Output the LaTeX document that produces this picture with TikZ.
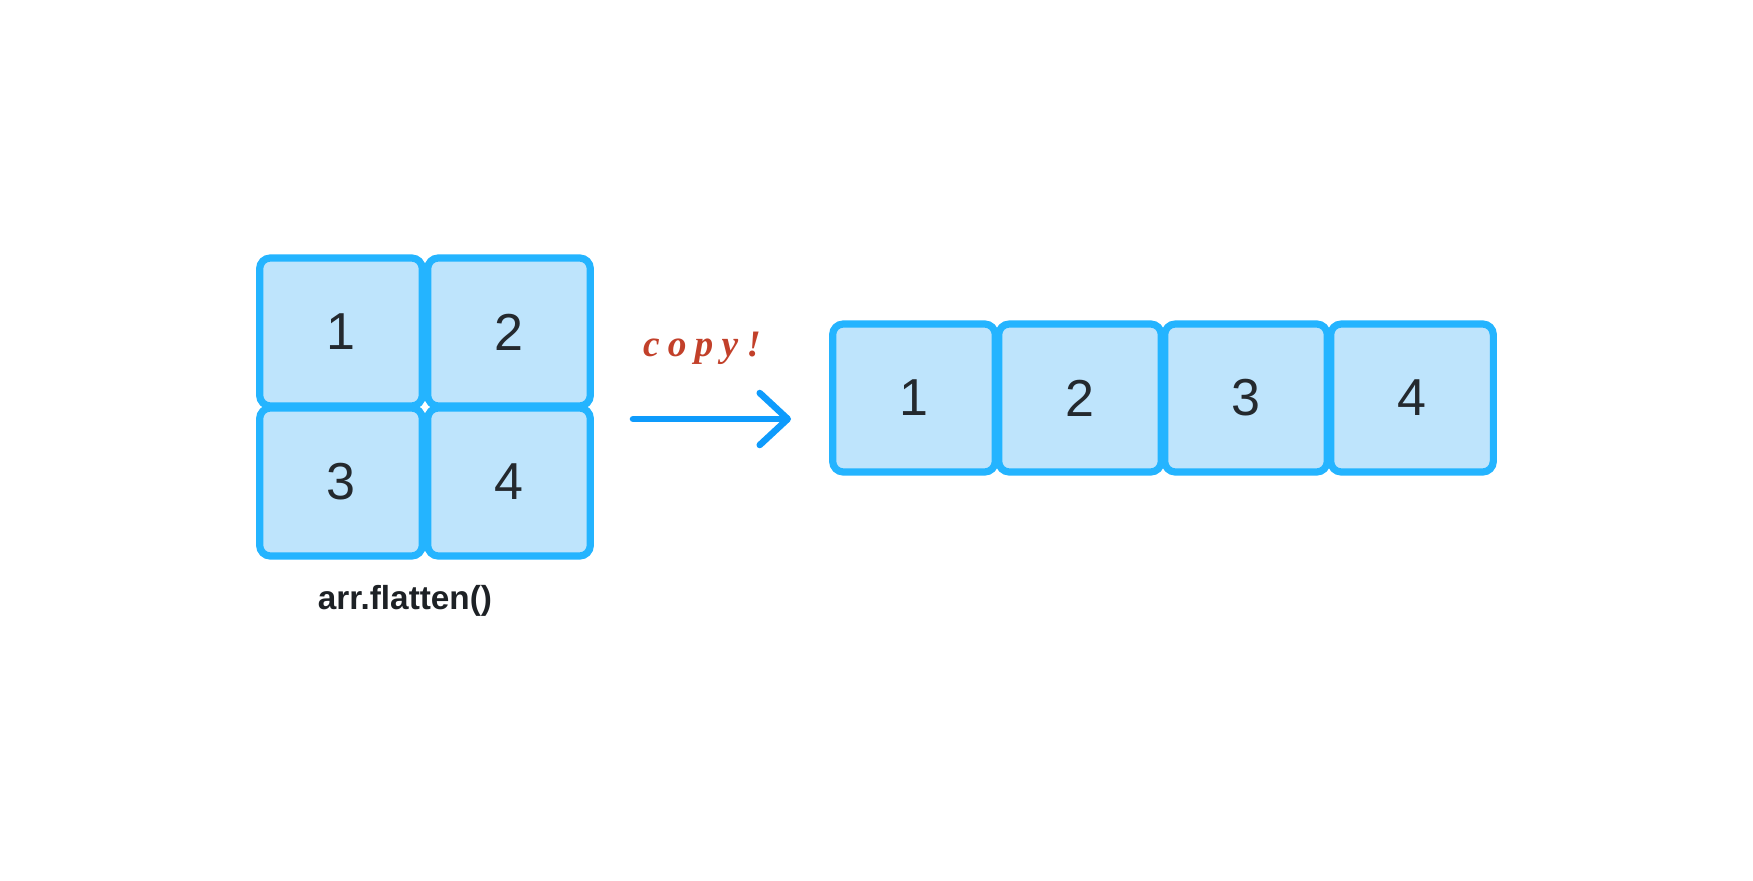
\documentclass[tikz,border=0pt]{standalone}
\usepackage{fontspec}
\setmainfont{Liberation Sans}
\newfontfamily\handfont[LetterSpace=22]{Liberation Serif}
\definecolor{cellline}{RGB}{36,180,255}
\definecolor{cellfill}{RGB}{190,228,252}
\definecolor{arrowblue}{RGB}{14,155,252}
\definecolor{copyred}{RGB}{194,64,42}
\definecolor{numgray}{RGB}{36,41,46}
\usetikzlibrary{arrows.meta,positioning}

\begin{document}
\begin{tikzpicture}[x=0.75pt,y=-0.75pt,
    cell/.style={draw=cellline,fill=cellfill,line width=5.4pt,rounded corners=8pt,
      minimum width=122pt,minimum height=111pt,inner sep=0pt,text=numgray,
      font=\fontsize{39}{40}\selectfont},
    flow/.style={draw=arrowblue,line width=4.9pt,line cap=round,
      -{Straight Barb[length=21pt,width=39pt,round]}},
    copytext/.style={text=copyred,font=\handfont\bfseries\itshape\fontsize{28}{30}\selectfont},
    caption/.style={text=numgray!80!black,font=\bfseries\fontsize{25}{26}\selectfont}]
  \useasboundingbox (0,0) rectangle (1753,881);
  % 2x2 array
  \node[cell] (g1) at (341,332) {1};
  \node[cell] (g2) at (509,332) {2};
  \node[cell] (g3) at (341,482) {3};
  \node[cell] (g4) at (509,482) {4};
  \node[caption] (call) at (405,601) {arr.flatten()};
  % arrow
  \coordinate (arrowtail) at (633,419);
  \coordinate (arrowtip) at (791,419);
  \draw[flow] (arrowtail) -- (arrowtip);
  \node[copytext] (copy) at (702,348) {copy!};
  % flat copy
  \node[cell] (r1) at (914,398) {1};
  \node[cell] (r2) at (1080,398) {2};
  \node[cell] (r3) at (1246,398) {3};
  \node[cell] (r4) at (1412,398) {4};
\end{tikzpicture}
\end{document}
